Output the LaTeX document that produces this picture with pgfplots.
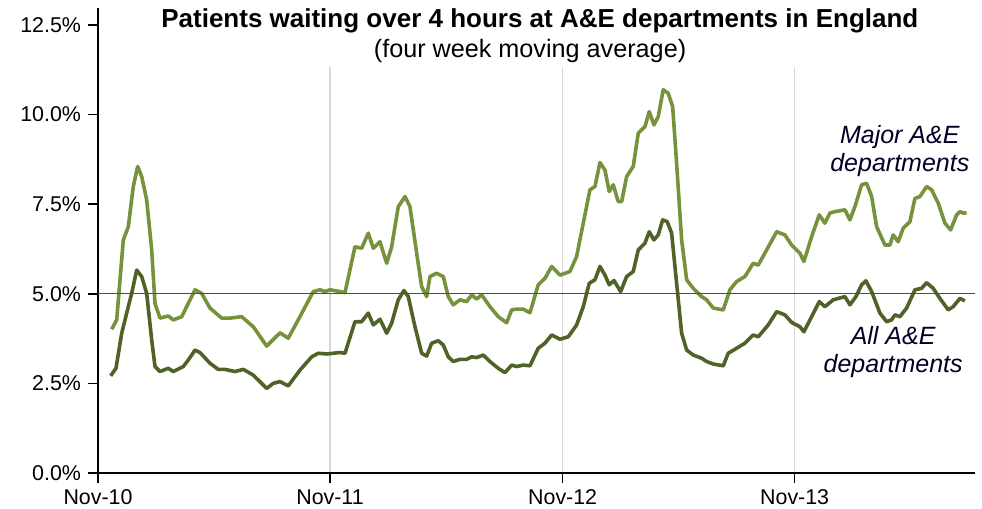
\documentclass[border=0pt]{standalone}
\usepackage{fontspec}
\setmainfont{Liberation Sans}
\usepackage{pgfplots}
\pgfplotsset{compat=1.18}
\usepackage{pgfplotstable}
\definecolor{majorc}{HTML}{76923C}
\definecolor{allc}{HTML}{4F6228}

\pgfplotstableread{
w v
3.08 4.01
4.20 4.27
5.69 6.50
6.81 6.87
7.93 7.99
8.92 8.55
9.82 8.27
10.94 7.62
12.07 6.22
12.81 4.73
13.93 4.32
15.80 4.38
16.92 4.27
18.81 4.36
20.29 4.73
21.80 5.11
23.30 5.01
25.17 4.60
27.80 4.32
29.66 4.32
32.29 4.36
34.90 4.08
37.91 3.54
40.90 3.91
42.76 3.76
45.39 4.36
48.38 5.06
49.89 5.11
51.01 5.06
52.13 5.11
54.38 5.06
55.51 5.03
57.75 6.31
59.26 6.27
60.74 6.69
61.87 6.27
63.37 6.45
64.88 5.85
66.00 6.31
67.48 7.43
68.99 7.71
70.11 7.43
71.62 6.13
72.74 5.20
73.87 4.92
74.61 5.48
76.11 5.57
77.60 5.48
78.72 4.92
79.84 4.69
81.35 4.83
82.85 4.78
83.98 4.97
85.10 4.85
86.22 4.97
88.09 4.64
89.96 4.36
91.84 4.19
92.97 4.55
94.09 4.57
95.57 4.57
97.08 4.47
98.94 5.25
100.45 5.43
101.96 5.76
103.82 5.52
106.07 5.62
107.57 6.04
109.06 6.97
110.56 7.90
111.69 7.99
112.81 8.66
113.93 8.45
114.90 7.85
115.80 8.04
116.92 7.57
117.69 7.57
118.81 8.27
120.29 8.55
121.42 9.48
122.92 9.66
123.89 10.08
124.94 9.71
125.91 9.94
127.03 10.69
128.16 10.59
129.15 10.22
130.04 8.64
131.17 6.50
132.29 5.39
133.78 5.15
135.66 4.92
136.79 4.83
138.27 4.60
140.52 4.55
142.02 5.11
143.53 5.34
145.39 5.48
147.26 5.85
148.38 5.80
150.27 6.22
152.52 6.73
154.38 6.64
155.89 6.36
157.75 6.13
158.65 5.90
160.38 6.59
162.09 7.20
163.37 6.97
164.49 7.25
165.62 7.29
167.87 7.34
168.99 7.06
170.11 7.43
171.62 8.04
172.74 8.08
173.87 7.71
174.99 6.87
176.85 6.36
177.98 6.36
178.72 6.64
179.84 6.45
180.97 6.83
182.47 7.01
183.60 7.66
184.72 7.71
186.22 7.99
187.35 7.90
188.83 7.53
190.34 6.97
191.62 6.78
192.97 7.20
193.71 7.29
194.45 7.25
195.21 7.26
}\majortable

\pgfplotstableread{
w v
2.85 2.71
4.04 2.92
5.33 3.90
6.45 4.46
7.57 5.01
8.70 5.66
9.82 5.48
10.94 5.01
12.07 3.71
12.81 2.97
13.93 2.83
15.80 2.92
16.92 2.83
19.17 2.97
20.29 3.15
21.80 3.43
22.92 3.36
25.17 3.06
27.03 2.89
28.54 2.89
30.79 2.83
32.65 2.89
34.90 2.73
37.91 2.36
39.39 2.50
40.90 2.55
42.76 2.43
45.39 2.87
48.02 3.24
49.51 3.34
51.39 3.32
54.38 3.36
55.51 3.34
57.75 4.22
59.26 4.22
60.74 4.46
61.87 4.13
63.37 4.29
64.88 3.90
66.00 4.18
67.48 4.83
68.76 5.09
69.73 4.92
71.24 4.08
72.74 3.34
73.87 3.26
74.99 3.62
76.47 3.69
77.60 3.57
78.72 3.24
79.84 3.11
81.35 3.17
82.85 3.17
83.98 3.24
85.10 3.22
86.58 3.29
88.09 3.11
89.96 2.92
91.46 2.80
92.97 3.01
94.09 2.97
95.57 3.01
97.08 2.99
98.94 3.48
100.45 3.62
101.96 3.85
103.82 3.73
105.69 3.80
107.57 4.13
109.06 4.64
110.40 5.29
111.69 5.39
112.81 5.76
113.93 5.52
114.90 5.25
115.96 5.37
117.46 5.06
118.81 5.48
120.29 5.62
121.42 6.22
122.92 6.41
123.89 6.73
124.94 6.50
125.91 6.64
126.90 7.06
127.93 7.01
128.92 6.69
129.89 5.48
131.17 3.90
132.29 3.43
133.78 3.29
135.66 3.20
136.79 3.11
138.27 3.04
140.52 2.99
141.64 3.34
143.53 3.48
145.39 3.62
147.26 3.85
148.38 3.80
150.63 4.13
152.52 4.50
154.38 4.41
155.89 4.20
157.75 4.08
158.65 3.94
160.38 4.36
162.09 4.78
163.37 4.64
165.24 4.83
167.87 4.92
168.99 4.69
170.34 4.92
171.62 5.25
172.58 5.36
173.87 5.06
175.73 4.46
177.24 4.22
178.36 4.27
179.10 4.41
180.22 4.36
181.73 4.60
183.60 5.11
185.10 5.15
186.22 5.31
187.71 5.15
189.21 4.87
191.08 4.55
192.20 4.64
193.71 4.87
194.83 4.80
}\alltable

\begin{document}
\begin{tikzpicture}
\begin{axis}[
  scale only axis,
  width=438.5bp, height=232.5bp,
  xmin=0, xmax=197.1, ymin=0, ymax=12.97,
  clip=false,
  axis lines=left,
  axis line style={-, black, line width=0.8bp},
  xtick={0,52.14,104.43,156.57},
  xticklabels={Nov-10,Nov-11,Nov-12,Nov-13},
  ytick={0,2.5,5,7.5,10,12.5},
  yticklabels={0.0\%,2.5\%,5.0\%,7.5\%,10.0\%,12.5\%},
  tick align=outside,
  major tick length=5bp,
  tick style={black, line width=0.8bp},
  xmajorgrids,
  grid style={black!15, line width=0.7bp},
  ticklabel style={font=\fontsize{10.7bp}{12bp}\selectfont, text=black},
]
\coordinate (O) at (rel axis cs:0,0);
\addplot[majorc, line width=1.8bp, line join=round] table[x=w, y=v] {\majortable};
\addplot[allc, line width=1.8bp, line join=round] table[x=w, y=v] {\alltable};
\addplot[black!70, line width=0.6bp] coordinates {(0,5) (197.1,5)};
\fill[white] (axis cs:11,11.32) rectangle (axis cs:188,12.97);
\node[font=\bfseries\fontsize{13bp}{15bp}\selectfont] at (axis cs:99.3,12.62)
  {Patients waiting over 4 hours at A\&E departments in England};
\node[font=\fontsize{12.6bp}{15bp}\selectfont] at (axis cs:97.1,11.78)
  {(four week moving average)};
\node[align=center, font=\itshape\fontsize{12.5bp}{14bp}\selectfont, text=black!85!blue] at (axis cs:180.2,8.98)
  {Major A\&E\\departments};
\node[align=center, font=\itshape\fontsize{12.5bp}{14bp}\selectfont, text=black!85!blue] at (axis cs:178.7,3.38)
  {All A\&E\\departments};
\end{axis}
\pgfresetboundingbox
\path (O) ++(-49bp,-18bp) rectangle ++(491bp,254.5bp);
\end{tikzpicture}
\end{document}
